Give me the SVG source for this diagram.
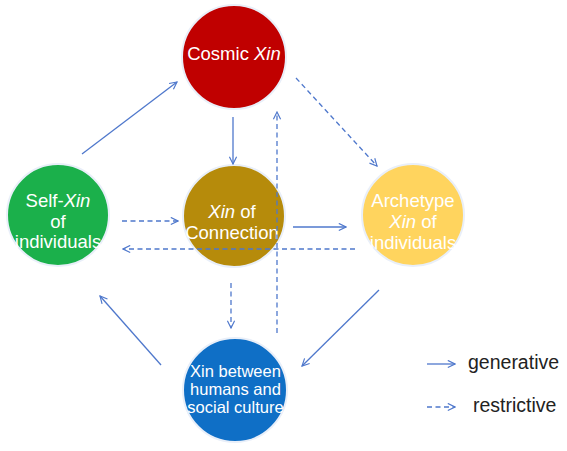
<svg xmlns="http://www.w3.org/2000/svg" width="567" height="451" viewBox="0 0 567 451">
<style>
.n{stroke:#e9eff9;stroke-width:2}
.t{font-family:"Liberation Sans",Arial,sans-serif;fill:#fff;text-anchor:middle;font-size:18.5px}
.c{stroke:#4f78cc;stroke-width:1.3;fill:none}
.d{stroke-dasharray:5 3.5}
.lg{font-family:"Liberation Sans",Arial,sans-serif;fill:#222;font-size:19.5px}
</style>
<defs>
<marker id="ah" viewBox="0 0 10 10" refX="9" refY="5" markerWidth="9" markerHeight="9" markerUnits="userSpaceOnUse" orient="auto">
<path d="M1,1 L9,5 L1,9" fill="none" stroke="#4f78cc" stroke-width="1.3"/>
</marker>
</defs>
<rect width="567" height="451" fill="#fff"/>
<g id="cosmic">
<circle class="n" cx="234" cy="57" r="52" fill="#c00000"/>
<text class="t" x="234" y="60">Cosmic <tspan font-style="italic">Xin</tspan></text>
</g>
<g id="self">
<circle class="n" cx="58" cy="215" r="51" fill="#1bb04b"/>
<text class="t" x="58" y="207">Self-<tspan font-style="italic">Xin</tspan></text>
<text class="t" x="58" y="228">of</text>
<text class="t" x="58" y="248">individuals</text>
</g>
<g id="connection">
<circle class="n" cx="234" cy="216" r="51" fill="#b68b0b"/>
<text class="t" x="232" y="218"><tspan font-style="italic">Xin</tspan> of</text>
<text class="t" x="232" y="239">Connection</text>
</g>
<g id="archetype">
<circle class="n" cx="413" cy="215" r="51" fill="#ffd45e"/>
<text class="t" x="413" y="207">Archetype</text>
<text class="t" x="413" y="228"><tspan font-style="italic">Xin</tspan> of</text>
<text class="t" x="413" y="249">individuals</text>
</g>
<g id="between">
<circle class="n" cx="235" cy="390" r="52" fill="#0f6fc6"/>
<text class="t" x="235.5" y="377" style="font-size:16.5px">Xin between</text>
<text class="t" x="235.5" y="395" style="font-size:16.5px">humans and</text>
<text class="t" x="235.5" y="413" style="font-size:16.5px">social culture</text>
</g>
<g id="connectors">
<line class="c" x1="82" y1="154" x2="177" y2="82" marker-end="url(#ah)"/>
<line class="c" x1="233" y1="117" x2="233" y2="164" marker-end="url(#ah)"/>
<line class="c d" x1="296" y1="78" x2="377" y2="166" marker-end="url(#ah)"/>
<line class="c d" x1="277" y1="333" x2="277" y2="112" marker-end="url(#ah)"/>
<line class="c d" x1="122" y1="221" x2="178" y2="221" marker-end="url(#ah)"/>
<line class="c" x1="293" y1="227" x2="346" y2="227" marker-end="url(#ah)"/>
<line class="c d" x1="355" y1="249" x2="123" y2="249" marker-end="url(#ah)"/>
<line class="c d" x1="231" y1="283" x2="231" y2="328" marker-end="url(#ah)"/>
<line class="c" x1="379" y1="290" x2="302" y2="366" marker-end="url(#ah)"/>
<line class="c" x1="161" y1="365" x2="100" y2="296" marker-end="url(#ah)"/>
</g>
<g id="legend">
<line class="c" x1="427" y1="364" x2="455" y2="364" marker-end="url(#ah)"/>
<text class="lg" x="468" y="369">generative</text>
<line class="c d" x1="427" y1="407" x2="455" y2="407" marker-end="url(#ah)"/>
<text class="lg" x="473" y="412">restrictive</text>
</g>
</svg>
